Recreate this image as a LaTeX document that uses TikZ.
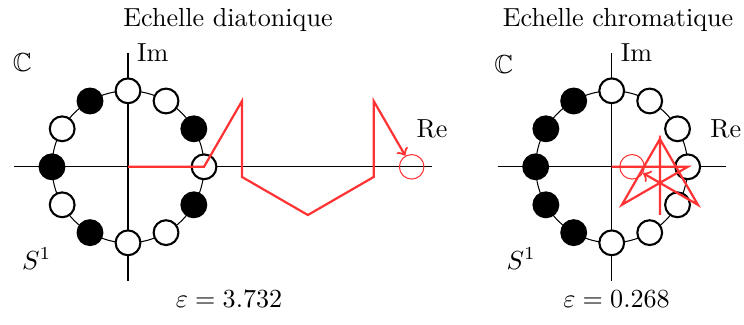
\documentclass[tikz,border=0pt]{standalone}
\usepackage{amssymb}
\definecolor{pathred}{RGB}{255,51,51}
\tikzset{
  note/.style={circle, draw=black, line width=0.8pt, minimum size=9.5pt, inner sep=0pt},
  white note/.style={note, fill=white},
  black note/.style={note, fill=black},
  track/.style={line width=0.4pt},
  axis/.style={line width=0.4pt},
  redpath/.style={draw=pathred, line width=0.85pt, line join=miter},
  endcircle/.style={circle, draw=pathred, line width=0.4pt, minimum size=9.4pt, inner sep=0pt},
  unitscale/.style={x=29.12pt, y=29.12pt}
}
\begin{document}
\begin{tikzpicture}[x=0.3831pt, y=0.3831pt]
\useasboundingbox (0,0) rectangle (744,325);
% titles and values
\node[anchor=base] (t1) at (228,298) {Echelle diatonique};
\node[anchor=base] (t2) at (618,298) {Echelle chromatique};
\node[anchor=base] (v1) at (229,17) {$\varepsilon = 3.732$};
\node[anchor=base] (v2) at (616.5,17) {$\varepsilon = 0.268$};

% ---------- left: diatonic ----------
\begin{scope}[shift={(49.04pt,60.6pt)}, unitscale]
  \coordinate (Lo) at (0,0);
  \draw[axis] (-1.5,0) coordinate (Lxa) -- (4,0) coordinate (Lxb);
  \draw[axis] (0,-1.5) coordinate (Lya) -- (0,1.5) coordinate (Lyb);
  \node[right] (Lim) at (Lyb) {Im};
  \node (Lre) at (4,0.5) {Re};
  \node (LC) at (-1.39,1.37) {$\mathbb{C}$};
  \node (LS) at (-1.2,-1.21) {$S^1$};
  \draw[track] (0,0) circle (1);
  \foreach \a in {0,60,90,150,210,270,300}
    \node[white note] (Ln\a) at (\a:1) {};
  \foreach \a in {30,120,180,240,330}
    \node[black note] (Ln\a) at (\a:1) {};
  \node[endcircle] (Le) at (3.732,0) {};
  \draw[redpath,->] (Lo) -- ++(0:1) -- ++(60:1) -- ++(-90:1) -- ++(-30:1)
     -- ++(30:1) -- ++(90:1) -- (Le);
\end{scope}

% ---------- right: chromatic ----------
\begin{scope}[shift={(234.34pt,60.6pt)}, unitscale]
  \coordinate (Ro) at (0,0);
  \draw[axis] (-1.5,0) coordinate (Rxa) -- (1.5,0) coordinate (Rxb);
  \draw[axis] (0,-1.5) coordinate (Rya) -- (0,1.5) coordinate (Ryb);
  \node[right] (Rim) at (Ryb) {Im};
  \node (Rre) at (1.5,0.5) {Re};
  \node (RC) at (-1.42,1.35) {$\mathbb{C}$};
  \node (RS) at (-1.19,-1.21) {$S^1$};
  \draw[track] (0,0) circle (1);
  \foreach \a in {270,300,330,0,30,60,90}
    \node[white note] (Rn\a) at (\a:1) {};
  \foreach \a in {120,150,180,210,240}
    \node[black note] (Rn\a) at (\a:1) {};
  \node[endcircle] (Re) at (0.268,0) {};
  \draw[redpath,->] (Ro) -- ++(0:1) -- ++(210:1) -- ++(60:1) -- ++(270:1)
     -- ++(90:1) -- ++(300:1) -- (Re);
\end{scope}
\end{tikzpicture}
\end{document}
